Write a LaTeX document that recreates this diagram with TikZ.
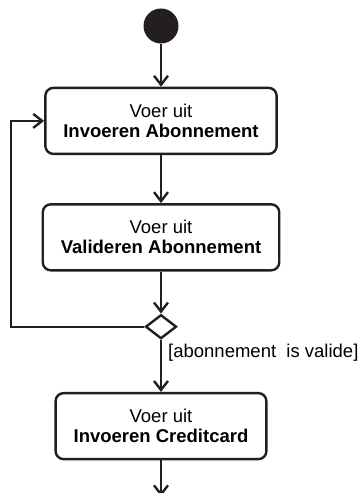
\documentclass[tikz,border=0pt]{standalone}
\usepackage{fontspec}
\setmainfont{Liberation Sans}
\usetikzlibrary{arrows.meta,positioning,shapes.geometric}
\definecolor{ink}{HTML}{231F20}
\tikzset{act/.style={draw=ink,line width=2.4bp,rounded corners=8bp,align=center,minimum height=66bp,inner xsep=18bp,font=\fontsize{18.5bp}{20bp}\selectfont},arr/.style={-{Straight Barb[length=9bp,width=14bp]},line width=2.4bp,draw=ink},dec/.style={draw=ink,diamond,line width=2.4bp,minimum width=31bp,minimum height=24bp,inner sep=0pt},lbl/.style={inner sep=0pt,font=\fontsize{18.5bp}{20bp}\selectfont}}

\begin{document}
\begin{tikzpicture}[x=1bp,y=1bp]
\useasboundingbox (0,0) rectangle (360,-493);
\node[circle,fill=ink,minimum size=35bp,inner sep=0pt] (start) at (161,-26) {};
\node[act,below=43bp of start] (inv) {Voer uit\\\textbf{Invoeren Abonnement}};
\node[act,below=48bp of inv] (val) {Voer uit\\\textbf{Valideren Abonnement}};
\node[dec,below=42bp of val] (dec) {};
\node[act,below=52bp of dec] (cc) {Voer uit\\\textbf{Invoeren Creditcard}};
\coordinate[below=36bp of cc] (end);
\node[lbl,anchor=north west] (guard) at ([xshift=7bp,yshift=-4bp]dec.south) {[abonnement\ \ is valide]};
\draw[arr] (start)--(inv);\draw[arr] (inv)--(val);\draw[arr] (val)--(dec);
\draw[arr] (dec)--(cc);\draw[arr] (cc)--(end);
\draw[arr] (dec.west) -| ([xshift=-33bp]inv.west) -- (inv.west);
\end{tikzpicture}
\end{document}
